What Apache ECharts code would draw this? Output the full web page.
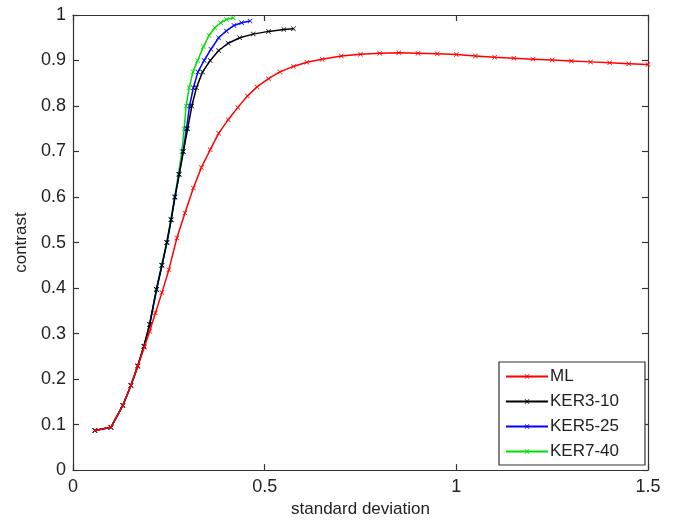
<!DOCTYPE html>
<html>
<head>
<meta charset="utf-8">
<script src="https://cdn.jsdelivr.net/npm/echarts@6/dist/echarts.min.js"></script>
<style>html,body{margin:0;background:#fff}#main{width:680px;height:523px}</style>
</head>
<body>
<div id="main"></div>
<script>
// values: [standard deviation, contrast]
const seriesNames = ['ML', 'KER3-10', 'KER5-25', 'KER7-40']
const colors = ['#ff0000', '#000000', '#0000ff', '#00dd00']

const mlData = [[0.057,0.087],[0.099,0.094],[0.13,0.142],[0.151,0.186],[0.169,0.229],[0.186,0.27],[0.2,0.305],[0.215,0.345],[0.232,0.39],[0.25,0.44],[0.271,0.51],[0.292,0.565],[0.314,0.62],[0.335,0.665],[0.358,0.704],[0.38,0.74],[0.405,0.77],[0.43,0.797],[0.455,0.822],[0.48,0.842],[0.51,0.86],[0.54,0.875],[0.575,0.887],[0.61,0.896],[0.65,0.903],[0.7,0.91],[0.75,0.914],[0.8,0.916],[0.85,0.917],[0.9,0.916],[0.95,0.915],[1.0,0.913],[1.05,0.91],[1.1,0.907],[1.15,0.905],[1.2,0.903],[1.25,0.901],[1.3,0.899],[1.35,0.897],[1.4,0.895],[1.45,0.893],[1.5,0.891]]

const ker3Data = [[0.057,0.087],[0.099,0.094],[0.13,0.142],[0.151,0.186],[0.169,0.229],[0.185,0.272],[0.2,0.32],[0.218,0.397],[0.232,0.45],[0.245,0.5],[0.256,0.55],[0.266,0.6],[0.277,0.65],[0.288,0.7],[0.299,0.75],[0.31,0.8],[0.322,0.84],[0.338,0.875],[0.358,0.9],[0.38,0.922],[0.405,0.938],[0.435,0.95],[0.47,0.958],[0.51,0.964],[0.55,0.968],[0.575,0.97]]

const ker5Data = [[0.057,0.087],[0.099,0.094],[0.13,0.142],[0.151,0.186],[0.169,0.229],[0.185,0.272],[0.2,0.32],[0.218,0.397],[0.232,0.45],[0.245,0.5],[0.256,0.55],[0.266,0.6],[0.277,0.65],[0.287,0.7],[0.296,0.75],[0.304,0.8],[0.314,0.84],[0.326,0.875],[0.342,0.9],[0.36,0.925],[0.38,0.95],[0.4,0.965],[0.42,0.977],[0.44,0.983],[0.462,0.987]]

const ker7Data = [[0.057,0.087],[0.099,0.094],[0.13,0.142],[0.151,0.186],[0.169,0.229],[0.185,0.272],[0.2,0.32],[0.217,0.397],[0.231,0.45],[0.244,0.5],[0.255,0.55],[0.265,0.6],[0.275,0.65],[0.284,0.7],[0.29,0.75],[0.295,0.8],[0.303,0.84],[0.313,0.875],[0.325,0.9],[0.34,0.93],[0.355,0.955],[0.37,0.972],[0.385,0.983],[0.4,0.99],[0.418,0.994]]

const xTicks = [0, 0.5, 1, 1.5]

const allData = [mlData, ker3Data, ker5Data, ker7Data]
const xMark = 'path://M0,1L1,0L5,4L9,0L10,1L6,5L10,9L9,10L5,6L1,10L0,9L4,5Z'
const font = 'Liberation Sans, Arial, sans-serif'

let myChart = echarts.init(document.getElementById('main'))

const axisLine = { show: true, onZero: false, lineStyle: { color: '#333', width: 1.2 } }
const tick = { show: true, inside: true, length: 6, lineStyle: { color: '#333', width: 1.2 } }

let options = {
    animation: false,
    grid: { left: 73, right: 32, top: 15, bottom: 52 },
    legend: {
        data: seriesNames,
        orient: 'vertical',
        left: 499,
        top: 362,
        backgroundColor: '#fff',
        borderColor: '#333',
        borderWidth: 1.2,
        borderRadius: 0,
        padding: [6, 26, 5, 6],
        itemGap: 8,
        itemWidth: 42,
        itemHeight: 6,
        textStyle: { fontFamily: font, fontSize: 17, color: '#222', padding: [0, 0, 0, -3] }
    },
    xAxis: [{
        type: 'value', min: 0, max: 1.5, interval: 0.5,
        name: 'standard deviation', nameLocation: 'middle', nameGap: 28,
        nameTextStyle: { fontFamily: font, fontSize: 17, color: '#222' },
        axisLine: axisLine, axisTick: tick, splitLine: { show: false },
        axisLabel: {
            fontFamily: font, fontSize: 18, color: '#222', margin: 8,
            formatter: v => xTicks.includes(v) ? String(v) : ''
        }
    }, {
        type: 'value', min: 0, max: 1.5, interval: 0.5, position: 'top',
        axisLine: axisLine, axisTick: tick, axisLabel: { show: false }, splitLine: { show: false }
    }],
    yAxis: [{
        type: 'value', min: 0, max: 1, interval: 0.1,
        name: 'contrast', nameLocation: 'middle', nameGap: 42,
        nameTextStyle: { fontFamily: font, fontSize: 17, color: '#222' },
        axisLine: axisLine, axisTick: tick, splitLine: { show: false },
        axisLabel: {
            fontFamily: font, fontSize: 18, color: '#222', margin: 7,
            formatter: v => String(Math.round(v * 10) / 10)
        }
    }, {
        type: 'value', min: 0, max: 1, interval: 0.1, position: 'right',
        axisLine: axisLine, axisTick: tick, axisLabel: { show: false }, splitLine: { show: false }
    }],
    series: seriesNames.map((name, i) => ({
        name: name,
        type: 'line',
        data: allData[i],
        symbol: xMark,
        symbolSize: 5,
        showAllSymbol: true,
        lineStyle: { color: colors[i], width: 1.5 },
        itemStyle: { color: colors[i] },
        emphasis: { disabled: true },
        z: 10 - i
    }))
}

myChart.setOption(options)
</script>
</body>
</html>
